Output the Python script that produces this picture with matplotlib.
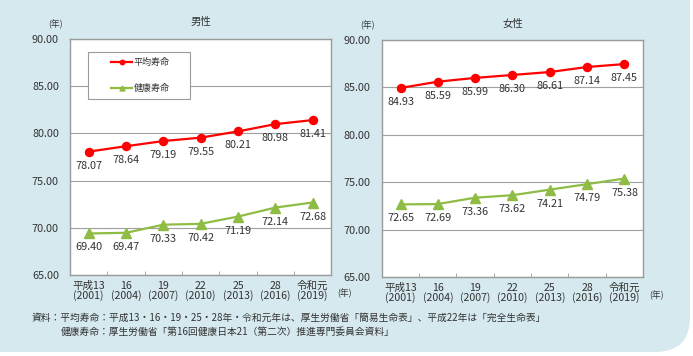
import matplotlib
matplotlib.use("Agg")
import matplotlib.pyplot as plt
from matplotlib.patches import FancyBboxPatch, Rectangle

plt.rcParams['font.family'] = ['Noto Sans CJK JP', 'DejaVu Sans']

# データ
Years = ["平成13\n(2001)", "16\n(2004)", "19\n(2007)", "22\n(2010)",
         "25\n(2013)", "28\n(2016)", "令和元\n(2019)"]
Male_Avg = [78.07, 78.64, 79.19, 79.55, 80.21, 80.98, 81.41]
Male_Health = [69.40, 69.47, 70.33, 70.42, 71.19, 72.14, 72.68]
Female_Avg = [84.93, 85.59, 85.99, 86.30, 86.61, 87.14, 87.45]
Female_Health = [72.65, 72.69, 73.36, 73.62, 74.21, 74.79, 75.38]
YTicks = [65, 70, 75, 80, 85, 90]

BG = '#d5e9ef'
RED = '#ff0000'
GREEN = '#8fbc45'
TXT = '#333333'
FRAME = '#9a9a9a'

fig = plt.figure(figsize=(6.93, 3.56), dpi=100)
fig.patch.set_facecolor('white')
bg = FancyBboxPatch((-1.0, 0.04), 7.90, 4.5, boxstyle='round,pad=0,rounding_size=0.35',
                    transform=fig.dpi_scale_trans, facecolor=BG, edgecolor='none', zorder=-5)
fig.add_artist(bg)


def DrawPanel(ax, title, avg, health, title_y):
	x = list(range(len(Years)))
	ax.set_facecolor('white')
	ax.plot(x, avg, '-o', color=RED, linewidth=1.6, markersize=5.8, label='平均寿命', zorder=3)
	ax.plot(x, health, '-^', color=GREEN, linewidth=1.6, markersize=6.5, label='健康寿命', zorder=3)

	for xi, v in zip(x, avg):
		ax.annotate('%.2f' % v, (xi, v), xytext=(0, -14), textcoords='offset pixels',
		            ha='center', va='center', fontsize=7.8, color=TXT, zorder=4)
	for xi, v in zip(x, health):
		ax.annotate('%.2f' % v, (xi, v), xytext=(0, -14), textcoords='offset pixels',
		            ha='center', va='center', fontsize=7.8, color=TXT, zorder=4)

	ax.set_xlim(-0.5, len(Years) - 0.5)
	ax.set_ylim(65, 90)
	ax.set_yticks(YTicks)
	ax.set_yticklabels(['%.2f' % t for t in YTicks], fontsize=7.8, color=TXT)
	ax.tick_params(axis='y', length=0, pad=8)
	ax.set_xticks(x)
	ax.set_xticklabels(Years, fontsize=7.6, color=TXT, linespacing=0.95)
	ax.set_xticks([i + 0.5 for i in range(len(Years) - 1)], minor=True)
	ax.tick_params(axis='x', which='major', length=0, pad=4)
	ax.tick_params(axis='x', which='minor', direction='in', length=3, color=FRAME)
	ax.grid(axis='y', color='#a0a0a0', linewidth=0.8, zorder=0)
	ax.set_axisbelow(True)
	for s in ax.spines.values():
		s.set_color(FRAME)
		s.set_linewidth(1.0)
	ax.set_title(title, fontsize=7.5, color=TXT, y=title_y)
	ax.text(-0.055, 1.06, '(年)', transform=ax.transAxes, fontsize=6.3, color=TXT,
	        ha='center', va='center')
	ax.text(1.05, -0.08, '(年)', transform=ax.transAxes, fontsize=6.3, color=TXT,
	        ha='center', va='center')


ax1 = fig.add_axes([0.101, 0.2275, 0.377, 0.663])
DrawPanel(ax1, '男性', Male_Avg, Male_Health, 1.025)
ax1.add_patch(Rectangle((0.069, 0.746), 0.391, 0.199, transform=ax1.transAxes,
                        facecolor='white', edgecolor=FRAME, linewidth=0.8, zorder=5))
leg = ax1.legend(loc='center', bbox_to_anchor=(0.27, 0.845), frameon=False, fontsize=6.5,
                 handlelength=2.3, markerscale=0.55, labelspacing=1.9, handletextpad=0.2)
leg.set_zorder(6)
for t in leg.get_texts():
	t.set_color(TXT)

ax2 = fig.add_axes([0.551, 0.222, 0.377, 0.666])
DrawPanel(ax2, '女性', Female_Avg, Female_Health, 1.02)

fig.text(0.046, 0.107, '資料：平均寿命：平成13・16・19・25・28年・令和元年は、厚生労働省「簡易生命表」、平成22年は「完全生命表」',
         fontsize=7.0, color=TXT, va='center')
fig.text(0.087, 0.067, '健康寿命：厚生労働省「第16回健康日本21（第二次）推進専門委員会資料」',
         fontsize=7.0, color=TXT, va='center')

fig.savefig('out.png', dpi=100, facecolor=fig.get_facecolor())
